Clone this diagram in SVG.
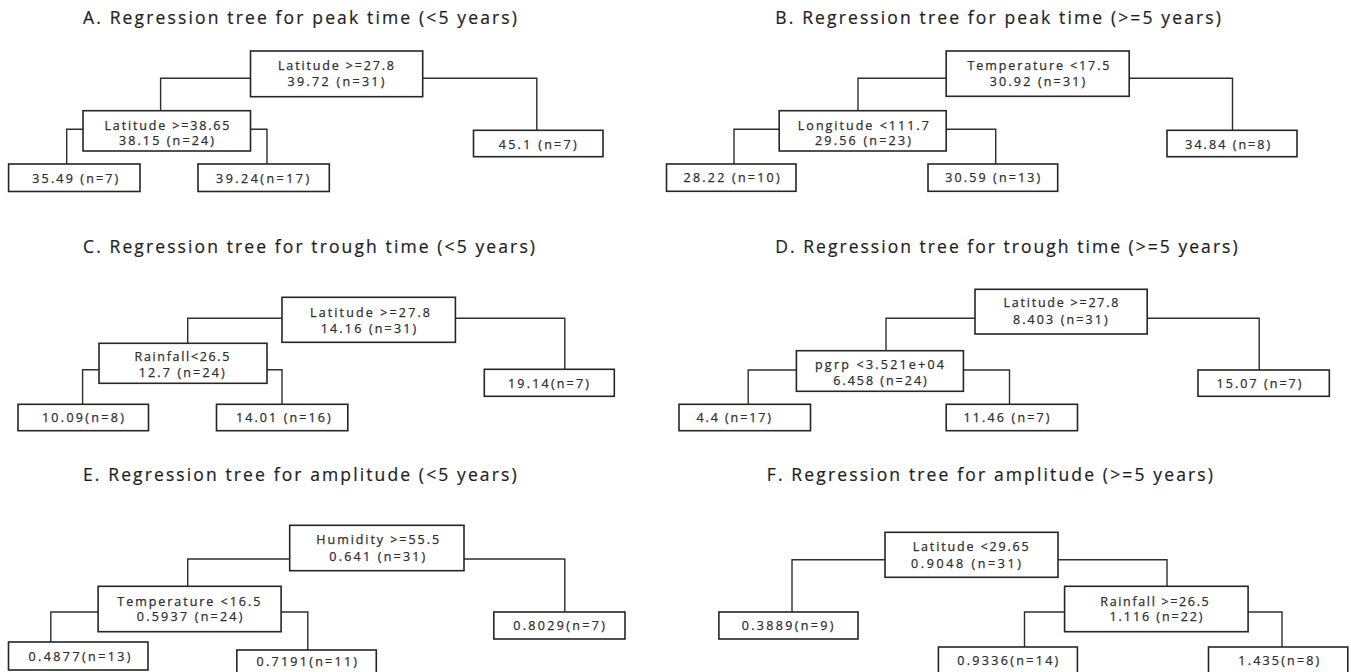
<svg xmlns="http://www.w3.org/2000/svg" width="1351" height="672" viewBox="0 0 1351 672">
<style>
.bg{fill:#ffffff}
.box{fill:#ffffff;stroke:#262626;stroke-width:1.6}
.con{fill:none;stroke:#2e2e2e;stroke-width:1.4}
.t{font-family:"Open Sans","Liberation Sans",sans-serif;font-size:12.5px;fill:#2e2e2e;stroke:#2e2e2e;stroke-width:0.25;text-anchor:middle}
.ttl{font-family:"Open Sans","Liberation Sans",sans-serif;font-size:17.5px;fill:#1e1e1e;stroke:#1e1e1e;stroke-width:0.2}
</style>
<rect class="bg" x="0" y="0" width="1351" height="672"/>
<g id="titles">
<text class="ttl" x="83" y="24" textLength="434" lengthAdjust="spacing">A. Regression tree for peak time (&lt;5 years)</text>
<text class="ttl" x="775.3" y="24" textLength="445.6" lengthAdjust="spacing">B. Regression tree for peak time (&gt;=5 years)</text>
<text class="ttl" x="83" y="252.5" textLength="452" lengthAdjust="spacing">C. Regression tree for trough time (&lt;5 years)</text>
<text class="ttl" x="775.3" y="252.5" textLength="462.3" lengthAdjust="spacing">D. Regression tree for trough time (&gt;=5 years)</text>
<text class="ttl" x="83" y="480.5" textLength="433.6" lengthAdjust="spacing">E. Regression tree for amplitude (&lt;5 years)</text>
<text class="ttl" x="766.7" y="480.5" textLength="446.3" lengthAdjust="spacing">F. Regression tree for amplitude (&gt;=5 years)</text>
</g>
<g id="connectors">
<path class="con" d="M250.5,78.3 H160.6 V110.7"/>
<path class="con" d="M422.7,78.3 H536.8 V130.3"/>
<path class="con" d="M83,129.3 H66.7 V164"/>
<path class="con" d="M250.5,129.3 H267 V164"/>
<path class="con" d="M946.2,78.3 H858 V110.7"/>
<path class="con" d="M1129.2,78.3 H1232.5 V130.3"/>
<path class="con" d="M779.2,129.3 H734 V164"/>
<path class="con" d="M946.2,129.3 H995.7 V164"/>
<path class="con" d="M282,318.3 H187.7 V343.3"/>
<path class="con" d="M455.4,318.3 H564.8 V369.3"/>
<path class="con" d="M99,369.7 H82.6 V404.3"/>
<path class="con" d="M267,369.7 H282 V404.3"/>
<path class="con" d="M975,318.3 H886 V350.7"/>
<path class="con" d="M1147.2,318.3 H1259.2 V370"/>
<path class="con" d="M796.4,370 H748.2 V404.3"/>
<path class="con" d="M963.4,370 H1009.5 V404.3"/>
<path class="con" d="M289.7,559 H187.7 V586.3"/>
<path class="con" d="M464,559 H564.8 V612"/>
<path class="con" d="M98.1,612 H50.8 V642"/>
<path class="con" d="M281.1,612 H307.8 V650"/>
<path class="con" d="M885,559.7 H792 V612"/>
<path class="con" d="M1058,559.7 H1167 V586.3"/>
<path class="con" d="M1064.6,612 H1024.5 V647"/>
<path class="con" d="M1247.5,612 H1282 V647"/>
</g>
<g id="A-root"><rect class="box" x="250.5" y="51" width="172.2" height="45.7"/>
<text class="t" x="336" y="70" textLength="116" lengthAdjust="spacing">Latitude &gt;=27.8</text>
<text class="t" x="336" y="86" textLength="97" lengthAdjust="spacing">39.72 (n=31)</text></g>
<g id="A-left"><rect class="box" x="83" y="110.7" width="167.5" height="40.3"/>
<text class="t" x="167" y="130" textLength="125" lengthAdjust="spacing">Latitude &gt;=38.65</text>
<text class="t" x="166.4" y="145.3" textLength="95" lengthAdjust="spacing">38.15 (n=24)</text></g>
<g id="A-right"><rect class="box" x="473.5" y="130.3" width="129.5" height="26.4"/>
<text class="t" x="537.7" y="149.3" textLength="78" lengthAdjust="spacing">45.1 (n=7)</text></g>
<g id="A-ll"><rect class="box" x="8.6" y="164" width="131.4" height="27.5"/>
<text class="t" x="75.3" y="182.5" textLength="86" lengthAdjust="spacing">35.49 (n=7)</text></g>
<g id="A-lr"><rect class="box" x="198" y="164" width="131.3" height="27.5"/>
<text class="t" x="262.6" y="182.5" textLength="93" lengthAdjust="spacing">39.24(n=17)</text></g>
<g id="B-root"><rect class="box" x="946.2" y="51" width="183" height="45.3"/>
<text class="t" x="1038.5" y="70" textLength="142" lengthAdjust="spacing">Temperature &lt;17.5</text>
<text class="t" x="1037.5" y="86" textLength="95.5" lengthAdjust="spacing">30.92 (n=31)</text></g>
<g id="B-left"><rect class="box" x="779.2" y="110.7" width="167" height="40.3"/>
<text class="t" x="863.3" y="130" textLength="131" lengthAdjust="spacing">Longitude &lt;111.7</text>
<text class="t" x="863" y="145.3" textLength="96" lengthAdjust="spacing">29.56 (n=23)</text></g>
<g id="B-right"><rect class="box" x="1167" y="130.3" width="130" height="26.4"/>
<text class="t" x="1227.7" y="149.3" textLength="85" lengthAdjust="spacing">34.84 (n=8)</text></g>
<g id="B-ll"><rect class="box" x="666.5" y="164" width="129.5" height="27.3"/>
<text class="t" x="731.6" y="182.3" textLength="96" lengthAdjust="spacing">28.22 (n=10)</text></g>
<g id="B-lr"><rect class="box" x="928" y="164" width="129.7" height="27.3"/>
<text class="t" x="992.7" y="182.3" textLength="95" lengthAdjust="spacing">30.59 (n=13)</text></g>
<g id="C-root"><rect class="box" x="282" y="297.3" width="173.4" height="45"/>
<text class="t" x="370" y="316.5" textLength="120" lengthAdjust="spacing">Latitude &gt;=27.8</text>
<text class="t" x="368.5" y="332.5" textLength="95.6" lengthAdjust="spacing">14.16 (n=31)</text></g>
<g id="C-left"><rect class="box" x="99" y="343.3" width="168" height="40"/>
<text class="t" x="182" y="361.3" textLength="95" lengthAdjust="spacing">Rainfall&lt;26.5</text>
<text class="t" x="181.7" y="376.7" textLength="86" lengthAdjust="spacing">12.7 (n=24)</text></g>
<g id="C-right"><rect class="box" x="484.3" y="369.3" width="130" height="27"/>
<text class="t" x="548.5" y="388" textLength="81" lengthAdjust="spacing">19.14(n=7)</text></g>
<g id="C-ll"><rect class="box" x="18" y="404.3" width="130.5" height="26.4"/>
<text class="t" x="82.9" y="421.7" textLength="82" lengthAdjust="spacing">10.09(n=8)</text></g>
<g id="C-lr"><rect class="box" x="216.5" y="404.3" width="131.3" height="26.4"/>
<text class="t" x="283.3" y="421.7" textLength="94.6" lengthAdjust="spacing">14.01 (n=16)</text></g>
<g id="D-root"><rect class="box" x="975" y="289.3" width="172.2" height="44.7"/>
<text class="t" x="1061" y="307.3" textLength="115" lengthAdjust="spacing">Latitude &gt;=27.8</text>
<text class="t" x="1060.3" y="324" textLength="94.6" lengthAdjust="spacing">8.403 (n=31)</text></g>
<g id="D-left"><rect class="box" x="796.4" y="350.7" width="167" height="40.6"/>
<text class="t" x="879.5" y="369" textLength="129" lengthAdjust="spacing">pgrp &lt;3.521e+04</text>
<text class="t" x="880" y="384.7" textLength="93.4" lengthAdjust="spacing">6.458 (n=24)</text></g>
<g id="D-right"><rect class="box" x="1198" y="370" width="131.3" height="26.3"/>
<text class="t" x="1259" y="388.3" textLength="85" lengthAdjust="spacing">15.07 (n=7)</text></g>
<g id="D-ll"><rect class="box" x="679" y="404.3" width="131.5" height="26.4"/>
<text class="t" x="733.8" y="422" textLength="74.5" lengthAdjust="spacing">4.4 (n=17)</text></g>
<g id="D-lr"><rect class="box" x="946.2" y="404.3" width="131.3" height="26.4"/>
<text class="t" x="1006.5" y="422" textLength="86" lengthAdjust="spacing">11.46 (n=7)</text></g>
<g id="E-root"><rect class="box" x="289.7" y="525.3" width="174.3" height="45.4"/>
<text class="t" x="377.7" y="544" textLength="122.7" lengthAdjust="spacing">Humidity &gt;=55.5</text>
<text class="t" x="377.3" y="560.7" textLength="96" lengthAdjust="spacing">0.641 (n=31)</text></g>
<g id="E-left"><rect class="box" x="98.1" y="586.3" width="183" height="45.4"/>
<text class="t" x="188.8" y="605.7" textLength="143" lengthAdjust="spacing">Temperature &lt;16.5</text>
<text class="t" x="189.6" y="621.3" textLength="105.5" lengthAdjust="spacing">0.5937 (n=24)</text></g>
<g id="E-right"><rect class="box" x="493.8" y="612" width="131.2" height="27"/>
<text class="t" x="559" y="629.7" textLength="91.7" lengthAdjust="spacing">0.8029(n=7)</text></g>
<g id="E-ll"><rect class="box" x="8.5" y="642" width="139.5" height="28"/>
<text class="t" x="79.5" y="660.5" textLength="102" lengthAdjust="spacing">0.4877(n=13)</text></g>
<g id="E-lr"><rect class="box" x="236.8" y="650" width="139.5" height="26"/>
<text class="t" x="306.8" y="666" textLength="100.5" lengthAdjust="spacing">0.7191(n=11)</text></g>
<g id="F-root"><rect class="box" x="885" y="532.3" width="173" height="45"/>
<text class="t" x="970.7" y="551.3" textLength="116" lengthAdjust="spacing">Latitude &lt;29.65</text>
<text class="t" x="966" y="568" textLength="110" lengthAdjust="spacing">0.9048 (n=31)</text></g>
<g id="F-left"><rect class="box" x="718.9" y="612" width="139.1" height="27"/>
<text class="t" x="787.6" y="629.7" textLength="91.7" lengthAdjust="spacing">0.3889(n=9)</text></g>
<g id="F-right"><rect class="box" x="1064.6" y="586.3" width="183.5" height="45.4"/>
<text class="t" x="1154.5" y="605.7" textLength="108.5" lengthAdjust="spacing">Rainfall &gt;=26.5</text>
<text class="t" x="1156" y="621.3" textLength="93" lengthAdjust="spacing">1.116 (n=22)</text></g>
<g id="F-rl"><rect class="box" x="938.4" y="647" width="139" height="27"/>
<text class="t" x="1007.8" y="665" textLength="101" lengthAdjust="spacing">0.9336(n=14)</text></g>
<g id="F-rr"><rect class="box" x="1208.5" y="647" width="139.3" height="27"/>
<text class="t" x="1278.8" y="665" textLength="81" lengthAdjust="spacing">1.435(n=8)</text></g>
</svg>
